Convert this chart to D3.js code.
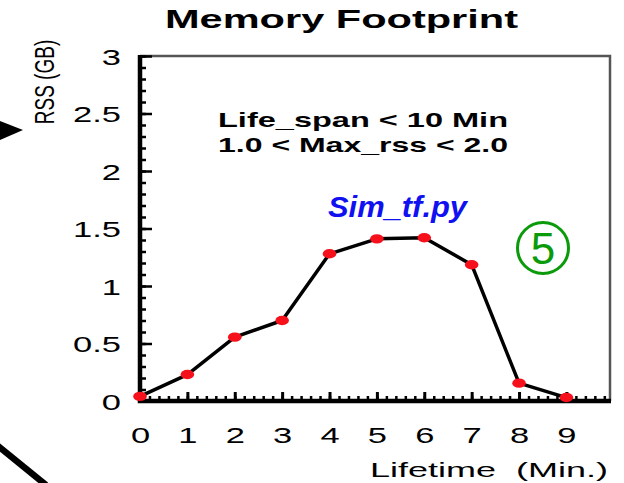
<!DOCTYPE html>
<html>
<head>
<meta charset="utf-8">
<script src="https://cdn.jsdelivr.net/npm/d3@7"></script>
<style>
  body { margin: 0; background: #fff; }
  svg { display: block; }
  text { font-family: "Liberation Sans", Arial, sans-serif; }
</style>
</head>
<body>
<svg id="chart"></svg>
<script>
const WIDTH = 624;
const HEIGHT = 483;
// plot box
const MARGIN = { top: 56, right: 14, bottom: 82, left: 140 };

// data
const lifetimes = [0, 1, 2, 3, 4, 5, 6, 7, 8, 9];
const rssValues = [0.04, 0.23, 0.555, 0.7, 1.28, 1.41, 1.42, 1.185, 0.155, 0.03];

const xTicks = [0, 1, 2, 3, 4, 5, 6, 7, 8, 9];
const yTicks = [0, 0.5, 1, 1.5, 2, 2.5, 3];
const xMinorTicks = d3.range(0, 9.9, 0.2);
const yMinorTicks = d3.range(0, 3.01, 0.1);

const TITLE = "Memory Footprint";
const X_LABEL = "Lifetime  (Min.)";
const Y_LABEL = "RSS (GB)";
const NOTE_LINES = ["Life_span < 10 Min", "1.0 < Max_rss < 2.0"];
const SCRIPT_NAME = "Sim_tf.py";
const STEP_NUMBER = "5";

// the plot picture was stretched sideways, so its text is too
const STRETCH = 1.5;

const svg = d3.select("#chart").attr("width", WIDTH).attr("height", HEIGHT);

const x = d3.scaleLinear().domain([0, 9.92]).range([MARGIN.left, WIDTH - MARGIN.right]);
const y = d3.scaleLinear().domain([0, 3]).range([HEIGHT - MARGIN.bottom, MARGIN.top]);

const x0 = x.range()[0], x1 = x.range()[1];
const y0 = y.range()[0], y1 = y.range()[1];

// top and right frame (thin grey)
svg.append("path")
  .attr("d", `M${x0},${y1}H${x1}V${y0}`)
  .attr("fill", "none")
  .attr("stroke", "#555")
  .attr("stroke-width", 2.5);

// minor ticks
svg.append("g")
  .attr("transform", `translate(${x0},0)`)
  .call(d3.axisLeft(y).tickValues(yMinorTicks).tickSize(-6).tickFormat(""))
  .call((g) => g.select(".domain").remove())
  .call((g) => g.selectAll("line").attr("stroke-width", 2.5));

svg.append("g")
  .attr("transform", `translate(0,${y0})`)
  .call(d3.axisBottom(x).tickValues(xMinorTicks).tickSize(-5).tickFormat(""))
  .call((g) => g.select(".domain").remove())
  .call((g) => g.selectAll("line").attr("stroke-width", 2.5));

// major y axis
svg.append("g")
  .attr("transform", `translate(${x0},0)`)
  .call(d3.axisLeft(y).tickValues(yTicks).tickSize(-12).tickPadding(0).tickFormat(d3.format("")))
  .call((g) => g.select(".domain").remove())
  .call((g) => g.selectAll("line").attr("stroke-width", 2.5))
  .call((g) =>
    g.selectAll("text")
      .attr("font-size", 23)
      .attr("font-family", "Liberation Sans, Arial, sans-serif")
      .attr("fill", "#000")
      .attr("x", -19 / STRETCH)
      .attr("dy", "0.36em")
      .attr("transform", `scale(${STRETCH},1)`)
  );

// major x axis
svg.append("g")
  .attr("transform", `translate(0,${y0})`)
  .call(d3.axisBottom(x).tickValues(xTicks).tickSize(-9).tickFormat(d3.format("d")))
  .call((g) => g.select(".domain").remove())
  .call((g) => g.selectAll("line").attr("stroke-width", 3))
  .call((g) =>
    g.selectAll("text")
      .attr("font-size", 23)
      .attr("font-family", "Liberation Sans, Arial, sans-serif")
      .attr("fill", "#000")
      .attr("y", 42)
      .attr("dy", 0)
      .attr("x", 0)
      .attr("transform", `scale(${STRETCH},1)`)
  );

// thick left and bottom axis lines
svg.append("path")
  .attr("d", `M${x0},${y1 - 1}V${y0}H${x1 + 1}`)
  .attr("fill", "none")
  .attr("stroke", "#000")
  .attr("stroke-width", 4.5);

// the series
const line = d3.line().x((d, i) => x(lifetimes[i])).y((d) => y(d));
svg.append("path")
  .datum(rssValues)
  .attr("d", line)
  .attr("fill", "none")
  .attr("stroke", "#000")
  .attr("stroke-width", 3.5)
  .attr("stroke-linejoin", "round");

svg.append("g")
  .selectAll("ellipse")
  .data(rssValues)
  .join("ellipse")
  .attr("cx", (d, i) => x(lifetimes[i]))
  .attr("cy", (d) => y(d))
  .attr("rx", 6.8)
  .attr("ry", 4.7)
  .attr("fill", "#f5101c");

// title
svg.append("text")
  .attr("x", 165)
  .attr("y", 28)
  .attr("font-size", 25)
  .attr("font-weight", "bold")
  .attr("textLength", 353)
  .attr("lengthAdjust", "spacingAndGlyphs")
  .text(TITLE);

// y label
svg.append("text")
  .attr("transform", `translate(54,82) scale(${STRETCH},1) rotate(-90)`)
  .attr("text-anchor", "middle")
  .attr("font-size", 19)
  .text(Y_LABEL);

// x label
svg.append("text")
  .attr("x", 370)
  .attr("y", 477)
  .attr("font-size", 21)
  .attr("textLength", 238)
  .attr("lengthAdjust", "spacingAndGlyphs")
  .style("white-space", "pre")
  .text(X_LABEL);

// note in the plot
svg.append("g")
  .selectAll("text")
  .data(NOTE_LINES)
  .join("text")
  .attr("x", 218)
  .attr("y", (d, i) => 127 + i * 25)
  .attr("font-size", 21)
  .attr("font-weight", "bold")
  .attr("textLength", 290)
  .attr("lengthAdjust", "spacingAndGlyphs")
  .text((d) => d);

// script name overlay
svg.append("text")
  .attr("x", 328)
  .attr("y", 217)
  .attr("font-size", 29)
  .attr("font-weight", "bold")
  .attr("font-style", "italic")
  .attr("fill", "#1010f0")
  .attr("textLength", 139)
  .attr("lengthAdjust", "spacingAndGlyphs")
  .text(SCRIPT_NAME);

// circled step number
svg.append("circle")
  .attr("cx", 543)
  .attr("cy", 248)
  .attr("r", 25.5)
  .attr("fill", "none")
  .attr("stroke", "#0a9a0a")
  .attr("stroke-width", 3);
svg.append("text")
  .attr("x", 543)
  .attr("y", 264)
  .attr("text-anchor", "middle")
  .attr("font-size", 44)
  .attr("font-family", "Noto Sans, DejaVu Sans, sans-serif")
  .attr("fill", "#0a9a0a")
  .text(STEP_NUMBER);

// slide decorations around the chart
svg.append("path")
  .attr("d", "M0,121L23,130L0,140Z")
  .attr("fill", "#000");
svg.append("line")
  .attr("x1", -2).attr("y1", 446)
  .attr("x2", 46).attr("y2", 485)
  .attr("stroke", "#000")
  .attr("stroke-width", 6.5);
</script>
</body>
</html>
